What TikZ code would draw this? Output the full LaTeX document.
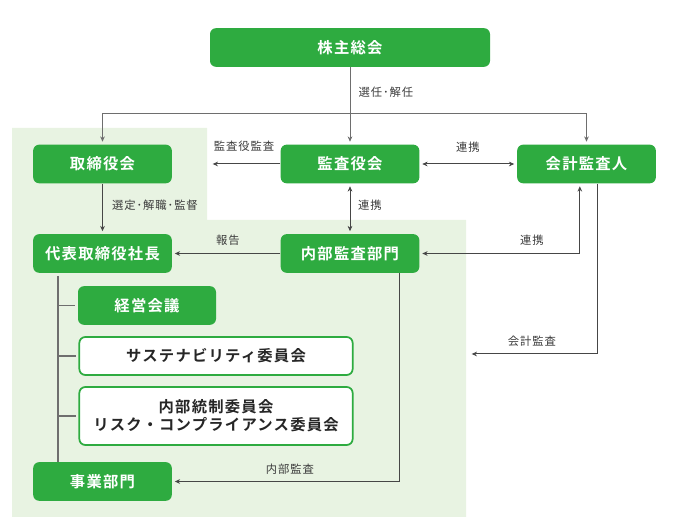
\documentclass[tikz,border=0pt]{standalone}
\usepackage{fontspec}
\setmainfont{Noto Sans CJK JP}[BoldFont={Noto Sans CJK JP Bold}]
\usetikzlibrary{arrows.meta}

\definecolor{boxgreen}{RGB}{46,171,64}
\definecolor{bggreen}{RGB}{232,243,226}
\definecolor{linegray}{RGB}{110,110,110}
\definecolor{arrowgray}{RGB}{70,70,70}
\definecolor{labelgray}{RGB}{60,60,60}

\tikzset{
  box/.style={fill=boxgreen, text=white, rounded corners=4.5pt,
    minimum width=104pt, minimum height=29pt, inner sep=0pt,
    font=\bfseries\fontsize{11.5}{13.5}\selectfont\addfontfeatures{LetterSpace=8}},
  wbox/.style={box, fill=white, draw=boxgreen, line width=1.3pt, text=black!85,
    minimum width=205pt, align=center},
  lbl/.style={text=labelgray, inner sep=1pt,
    font=\fontsize{8.5}{10}\selectfont\addfontfeatures{LetterSpace=8}},
  conn/.style={draw=arrowgray, line width=0.75pt, -{Stealth[length=4pt,width=3.5pt]}, shorten >=2pt},
  both/.style={conn, {Stealth[length=4pt,width=3.5pt]}-{Stealth[length=4pt,width=3.5pt]}, shorten <=2pt},
  tree/.style={draw=linegray, line width=1pt}
}

\begin{document}
\begin{tikzpicture}[x=0.75pt, y=-0.75pt]
    \useasboundingbox (0,0) rectangle (690,530);
    \fill[bggreen] (12,128) -- (207,128) -- (207,220) -- (466,220)
        -- (466,517) -- (12,517) -- cycle;

    % boxes
    \node[box, minimum width=210pt] (kabu) at (350,47.5) {株主総会};
    \node[box] (torishimari) at (102.5,164) {取締役会};
    \node[box] (kansa) at (350,164) {監査役会};
    \node[box] (kaikei) at (586.5,164) {会計監査人};
    \node[box] (daihyo) at (102.5,253.5) {代表取締役社長};
    \node[box] (naibu) at (350,253.5) {内部監査部門};
    \node[box, minimum width=103.5pt] (keiei) at (147,305.5) {経営会議};
    \node[wbox, minimum height=28.5pt] (sustain) at (216,356) {サステナビリティ委員会};
    \node[wbox, minimum height=43.5pt] (naitou) at (216,416)
        {内部統制委員会\\リスク・コンプライアンス委員会};
    \node[box] (jigyo) at (102.5,481.5) {事業部門};

    % free ends
    \coordinate (split) at (350,114);
    \coordinate (kansaout) at (210,164);
    \coordinate (kaikeiout) at (469,354);
    \coordinate (trunk) at (58,276);

    % connectors
    \draw[draw=linegray, line width=0.75pt] (kabu.south) -- (split);
    \draw[conn, draw=linegray] (split) -| (torishimari.north);
    \draw[conn, draw=linegray] (split) -| (kaikei.north);
    \draw[conn, draw=linegray] (split) -- (kansa.north);
    \draw[conn] (kansa.west) -- (kansaout);
    \draw[both] (kansa.east) -- (kaikei.west);
    \draw[conn] (torishimari.south) -- (daihyo.north);
    \draw[both] (kansa.south) -- (naibu.north);
    \draw[conn] (naibu.west) -- (daihyo.east);
    \draw[both] ([xshift=-5pt]kaikei.south) |- (naibu.east);
    \draw[conn] ([xshift=8pt]kaikei.south) |- (kaikeiout);
    \draw[conn] ([xshift=37pt]naibu.south) |- (jigyo.east);

    % tree
    \draw[tree] (trunk) -- (trunk |- jigyo.north);
    \draw[tree, shorten >=2pt] (trunk |- keiei.west) -- (keiei.west);
    \draw[tree, shorten >=2pt] (trunk |- sustain.west) -- (sustain.west);
    \draw[tree, shorten >=2pt] (trunk |- naitou.west) -- (naitou.west);

    % labels
    \node[lbl] (l1) at (386,92) {選任･解任};
    \node[lbl] (l2) at (244,146) {監査役監査};
    \node[lbl] (l3) at (468,147) {連携};
    \node[lbl] (l4) at (155,205) {選定･解職･監督};
    \node[lbl] (l5) at (370,205) {連携};
    \node[lbl] (l6) at (228,240) {報告};
    \node[lbl] (l7) at (532,240) {連携};
    \node[lbl] (l8) at (532,341) {会計監査};
    \node[lbl] (l9) at (290,469) {内部監査};
\end{tikzpicture}
\end{document}
